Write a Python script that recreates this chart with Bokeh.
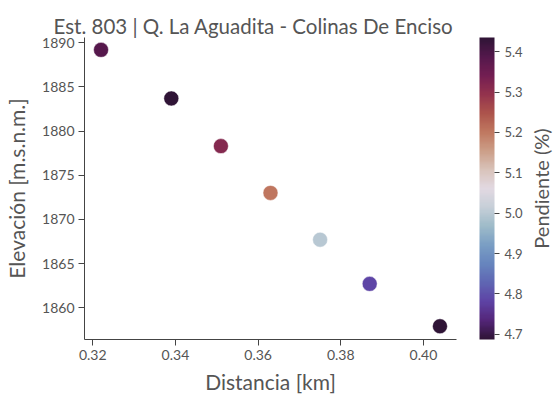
import numpy as np
from bokeh.plotting import figure
from bokeh.layouts import row
from bokeh.models import (ColumnDataSource, LinearColorMapper, ColorBar, FixedTicker,
                          NumeralTickFormatter, Range1d)
from bokeh.embed import file_html
from bokeh.resources import INLINE

# ---- data ----
distance_km = [0.322, 0.339, 0.351, 0.363, 0.375, 0.387, 0.404]
elevation_m = [1889.2, 1883.7, 1878.3, 1873.0, 1867.7, 1862.7, 1857.9]
slope_pct = [5.383, 5.435, 5.318, 5.203, 4.998, 4.786, 4.687]
x_ticks = [0.32, 0.34, 0.36, 0.38, 0.40]
y_ticks = [1860, 1865, 1870, 1875, 1880, 1885, 1890]
cbar_ticks = [4.7, 4.8, 4.9, 5.0, 5.1, 5.2, 5.3, 5.4]

# ---- twilight_shifted-like palette ----
anchors = ["#2f1436", "#54267a", "#5e43a5", "#5f66b3", "#6785be", "#7a9ec4",
           "#9ebbc9", "#c6cfd8", "#e2d9e2", "#d9c3ba", "#cc9e88", "#c07860",
           "#ad544c", "#94334d", "#731e52", "#54184c", "#2f1436"]
rgb = np.array([[int(c[i:i + 2], 16) for i in (1, 3, 5)] for c in anchors], float)
ta = np.linspace(0, 1, len(anchors))
tt = np.linspace(0, 1, 256)
pal = ["#%02x%02x%02x" % tuple(int(round(np.interp(t, ta, rgb[:, k]))) for k in range(3)) for t in tt]

FONT = "Lato"
TXT = "#555555"

lo, hi = min(slope_pct), max(slope_pct)
mapper = LinearColorMapper(palette=pal, low=lo, high=hi)
src = ColumnDataSource(dict(x=distance_km, y=elevation_m, s=slope_pct))

p = figure(frame_width=372, frame_height=302, output_backend="svg", toolbar_location=None,
           x_range=Range1d(0.318, 0.408), y_range=Range1d(1856.4, 1890.6),
           min_border_left=84, min_border_top=37, min_border_bottom=55, min_border_right=64)
p.title.text = "Est. 803 | Q. La Aguadita - Colinas De Enciso"
p.title.text_font = FONT
p.title.text_font_size = "20.5px"
p.title.text_font_style = "normal"
p.title.text_color = TXT
p.title.align = "left"
p.title.offset = -31
p.title.standoff = 0

p.scatter("x", "y", source=src, size=15, line_color="white", line_width=0.5,
          fill_color={"field": "s", "transform": mapper})

p.xgrid.visible = False
p.ygrid.visible = False
p.outline_line_color = None

p.xaxis.ticker = FixedTicker(ticks=x_ticks)
p.yaxis.ticker = FixedTicker(ticks=y_ticks)
p.xaxis.formatter = NumeralTickFormatter(format="0.00")
for ax in (p.xaxis[0], p.yaxis[0]):
    ax.axis_line_color = "#444444"
    ax.major_tick_line_color = "#444444"
    ax.major_tick_out = 6
    ax.major_tick_in = 0
    ax.minor_tick_line_color = None
    ax.major_label_text_font = FONT
    ax.major_label_text_font_size = "14px"
    ax.major_label_text_color = TXT
    ax.axis_label_text_font = FONT
    ax.axis_label_text_font_size = "21px"
    ax.axis_label_text_font_style = "normal"
    ax.axis_label_text_color = TXT
p.xaxis.axis_label = "Distancia [km]"
p.yaxis.axis_label = "Elevación [m.s.n.m.]"
p.xaxis.major_label_standoff = 4
p.yaxis.major_label_standoff = 4
p.xaxis.axis_label_standoff = 6
p.yaxis.axis_label_standoff = 10

cb = ColorBar(color_mapper=mapper, ticker=FixedTicker(ticks=cbar_ticks),
              formatter=NumeralTickFormatter(format="0.0"), width=15, height=302,
              padding=0, margin=0, location=(23, 0),
              major_tick_out=5, major_tick_in=0, major_tick_line_color="#444444",
              minor_tick_line_color=None, bar_line_color=None, border_line_color=None,
              background_fill_color=None,
              major_label_text_font=FONT, major_label_text_font_size="13px",
              major_label_text_color=TXT, label_standoff=5)
p.add_layout(cb, "right")

# narrow companion figure whose left-axis label is the colour-bar title
p2 = figure(frame_width=1, frame_height=302, output_backend="svg", toolbar_location=None,
            x_range=Range1d(0, 1), y_range=Range1d(lo, hi),
            min_border_left=0, min_border_right=0, min_border_top=37, min_border_bottom=55)
p2.outline_line_color = None
p2.xgrid.visible = False
p2.ygrid.visible = False
p2.xaxis.visible = False
ya = p2.yaxis[0]
ya.ticker = FixedTicker(ticks=[])
ya.axis_line_color = None
ya.major_tick_line_color = None
ya.minor_tick_line_color = None
ya.major_tick_out = 0
ya.major_tick_in = 0
ya.major_label_standoff = 0
ya.major_label_text_font_size = "0px"
ya.axis_label = "Pendiente (%)"
ya.axis_label_standoff = 0
ya.axis_label_text_font = FONT
ya.axis_label_text_font_size = "20px"
ya.axis_label_text_font_style = "normal"
ya.axis_label_text_color = TXT

layout = row(p, p2, spacing=0)
open("out.html", "w").write(file_html(layout, INLINE))
